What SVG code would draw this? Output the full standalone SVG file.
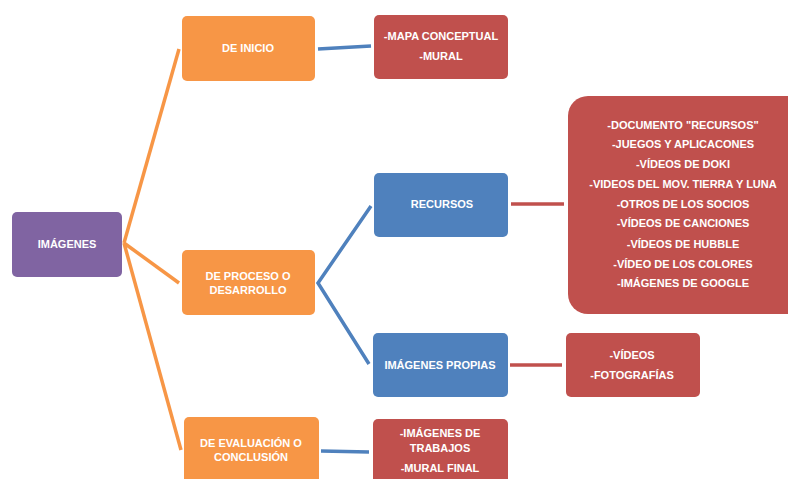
<svg xmlns="http://www.w3.org/2000/svg" width="788" height="479" viewBox="0 0 788 479">
<style>
.t{font-family:"Liberation Sans",Arial,sans-serif;font-weight:bold;font-size:11px;fill:#fff;text-anchor:middle}
.pu{fill:#8064A2}.or{fill:#F79646}.rd{fill:#C0504D}.bl{fill:#4F81BD}
.lo{stroke:#F79646;stroke-width:3.5;fill:none}
.lb{stroke:#4F81BD;stroke-width:3.5;fill:none}
.lr{stroke:#C0504D;stroke-width:3.5;fill:none}
</style>
<rect width="788" height="479" fill="#fff"/>
<g id="connectors">
<line class="lo" x1="124" y1="243" x2="179" y2="49"/>
<line class="lo" x1="124" y1="243" x2="179" y2="283"/>
<line class="lo" x1="124" y1="243" x2="181" y2="450"/>
<line class="lb" x1="318" y1="49" x2="371" y2="46"/>
<polyline class="lb" points="371,206 318,283 369,364"/>
<line class="lb" x1="321" y1="451" x2="369" y2="452"/>
<line class="lr" x1="511" y1="204" x2="564" y2="204"/>
<line class="lr" x1="510" y1="365" x2="562" y2="365"/>
</g>
<g id="imagenes"><rect class="pu" x="12" y="212" width="110" height="65" rx="5"/><text class="t" x="67" y="248">IMÁGENES</text></g>
<g id="de-inicio"><rect class="or" x="182" y="16" width="133" height="65" rx="5"/><text class="t" x="248" y="52">DE INICIO</text></g>
<g id="de-proceso"><rect class="or" x="182" y="250" width="133" height="65" rx="5"/><text class="t" x="248" y="280">DE PROCESO O</text><text class="t" x="248" y="294">DESARROLLO</text></g>
<g id="de-evaluacion"><rect class="or" x="184" y="417" width="135" height="66" rx="5"/><text class="t" x="251" y="447">DE EVALUACIÓN O</text><text class="t" x="251" y="461">CONCLUSIÓN</text></g>
<g id="mapa"><rect class="rd" x="374" y="15" width="134" height="64" rx="5"/><text class="t" x="441" y="40">-MAPA CONCEPTUAL</text><text class="t" x="441" y="60">-MURAL</text></g>
<g id="recursos"><rect class="bl" x="374" y="173" width="134" height="64" rx="5"/><text class="t" x="442" y="208">RECURSOS</text></g>
<g id="recursos-lista"><rect class="rd" x="568" y="96" width="240" height="218" rx="20"/>
<text class="t" x="683" y="129">-DOCUMENTO "RECURSOS"</text>
<text class="t" x="683" y="148">-JUEGOS Y APLICACONES</text>
<text class="t" x="683" y="168">-VÍDEOS DE DOKI</text>
<text class="t" x="683" y="188">-VIDEOS DEL MOV. TIERRA Y LUNA</text>
<text class="t" x="683" y="208">-OTROS DE LOS SOCIOS</text>
<text class="t" x="683" y="227">-VÍDEOS DE CANCIONES</text>
<text class="t" x="683" y="248">-VÍDEOS DE HUBBLE</text>
<text class="t" x="683" y="268">-VÍDEO DE LOS COLORES</text>
<text class="t" x="683" y="287">-IMÁGENES DE GOOGLE</text>
</g>
<g id="imagenes-propias"><rect class="bl" x="373" y="333" width="135" height="64" rx="5"/><text class="t" x="440" y="369">IMÁGENES PROPIAS</text></g>
<g id="videos"><rect class="rd" x="566" y="333" width="134" height="64" rx="5"/><text class="t" x="632" y="359">-VÍDEOS</text><text class="t" x="632" y="379">-FOTOGRAFÍAS</text></g>
<g id="trabajos"><rect class="rd" x="373" y="419" width="135" height="66" rx="5"/><text class="t" x="440" y="437">-IMÁGENES DE</text><text class="t" x="440" y="452">TRABAJOS</text><text class="t" x="440" y="472">-MURAL FINAL</text></g>
</svg>
